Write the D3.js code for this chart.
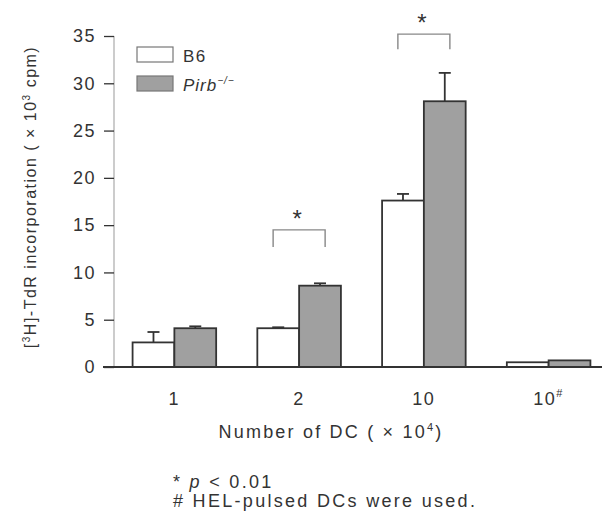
<!DOCTYPE html>
<meta charset="utf-8">
<script src="https://cdnjs.cloudflare.com/ajax/libs/d3/7.8.5/d3.min.js"></script>
<style>
  body { margin:0; background:#fff; }
  text { font-family: "Liberation Sans", Arial, sans-serif; fill:#333; }
</style>
<div id="chart"></div>
<script>
const groups = ["1", "2", "10", "10#"];
const series = ["B6", "Pirb"];
const b6 = [2.6, 4.1, 17.6, 0.5];
const b6Err = [1.1, 0.1, 0.7, 0];
const pirb = [4.1, 8.6, 28.1, 0.7];
const pirbErr = [0.2, 0.25, 3.0, 0];
const yTicks = [0, 5, 10, 15, 20, 25, 30, 35];
// significance brackets: group index, bracket level, leg bottom
const sig = [{g: 1, top: 14.5, leg: 12.7}, {g: 2, top: 35.2, leg: 33.6}];

const width = 602, height = 520;
const svg = d3.select("#chart").append("svg").attr("width", width).attr("height", height);

const y = d3.scaleLinear().domain([0, 35]).range([367, 36]);
const x = d3.scaleBand().domain(groups).range([112, 611]).paddingInner(0.33).paddingOuter(0.165);
const xs = d3.scaleBand().domain(series).range([0, x.bandwidth()]);

const vals = {B6: b6, Pirb: pirb};
const errs = {B6: b6Err, Pirb: pirbErr};
const fill = {B6: "#fff", Pirb: "#a0a0a0"};

// y axis
const ya = svg.append("g").attr("transform", "translate(114,0)")
  .call(d3.axisLeft(y).tickValues(yTicks).tickSize(10).tickPadding(8));
ya.select(".domain").attr("stroke", "#bbb").attr("stroke-width", 1.5).attr("d", "M0," + y(0) + "V" + y(35));
ya.selectAll(".tick line").attr("stroke", "#333").attr("stroke-width", 1.3);
ya.selectAll(".tick text").attr("font-size", 18).attr("fill", "#333").attr("letter-spacing", 1.5)
  .attr("font-family", "Liberation Sans, Arial, sans-serif");

// bars
const data = [];
groups.forEach((g, i) => series.forEach(s => data.push({g, s, v: vals[s][i], e: errs[s][i]})));

svg.append("g").selectAll("line.err").data(data.filter(d => d.e > 0)).join("line")
  .attr("x1", d => x(d.g) + xs(d.s) + xs.bandwidth() / 2)
  .attr("x2", d => x(d.g) + xs(d.s) + xs.bandwidth() / 2)
  .attr("y1", d => y(d.v)).attr("y2", d => y(d.v + d.e))
  .attr("stroke", "#333").attr("stroke-width", 1.8);
svg.append("g").selectAll("line.cap").data(data.filter(d => d.e > 0)).join("line")
  .attr("x1", d => x(d.g) + xs(d.s) + xs.bandwidth() / 2 - 6)
  .attr("x2", d => x(d.g) + xs(d.s) + xs.bandwidth() / 2 + 6)
  .attr("y1", d => y(d.v + d.e)).attr("y2", d => y(d.v + d.e))
  .attr("stroke", "#333").attr("stroke-width", 1.8);

svg.append("g").selectAll("rect").data(data).join("rect")
  .attr("x", d => x(d.g) + xs(d.s))
  .attr("y", d => y(d.v))
  .attr("width", xs.bandwidth())
  .attr("height", d => y(0) - y(d.v))
  .attr("fill", d => fill[d.s])
  .attr("stroke", "#333").attr("stroke-width", 1.8);

// baseline
svg.append("line").attr("x1", 103).attr("x2", 602).attr("y1", y(0)).attr("y2", y(0))
  .attr("stroke", "#333").attr("stroke-width", 2);

// x tick labels
const xl = svg.append("g").selectAll("text").data(groups).join("text")
  .attr("x", d => x(d) + x.bandwidth() / 2).attr("y", 405)
  .attr("text-anchor", "middle").attr("font-size", 18).attr("letter-spacing", 1.5);
xl.text(d => d.replace("#", ""));
xl.filter(d => d.includes("#")).append("tspan").attr("dy", -8).attr("font-size", 11).text("#");

// x label
const xt = svg.append("text").attr("x", 331).attr("y", 438).attr("text-anchor", "middle")
  .attr("font-size", 18).attr("letter-spacing", 2.2);
xt.append("tspan").text("Number of DC ( \u00d7 10");
xt.append("tspan").attr("dy", -7).attr("font-size", 11).text("4");
xt.append("tspan").attr("dy", 7).text(")");

// y label
const yt = svg.append("text").attr("transform", "translate(36,197) rotate(-90)")
  .attr("text-anchor", "middle").attr("font-size", 16).attr("letter-spacing", 1.5);
yt.append("tspan").text("[");
yt.append("tspan").attr("dy", -6).attr("font-size", 10).text("3");
yt.append("tspan").attr("dy", 6).text("H]-TdR incorporation ( \u00d7 10");
yt.append("tspan").attr("dy", -6).attr("font-size", 10).text("3");
yt.append("tspan").attr("dy", 6).text(" cpm)");

// significance
sig.forEach(d => {
  const cx = x(groups[d.g]) + x.bandwidth() / 2;
  const half = 26;
  svg.append("path")
    .attr("d", `M${cx - half},${y(d.leg)}V${y(d.top)}H${cx + half}V${y(d.leg)}`)
    .attr("fill", "none").attr("stroke", "#888").attr("stroke-width", 1.4);
  svg.append("text").attr("x", cx - 2).attr("y", y(d.top) - 3)
    .attr("text-anchor", "middle").attr("font-size", 24).text("*");
});

// legend
const leg = svg.append("g");
series.forEach((s, i) => {
  leg.append("rect").attr("x", 137).attr("y", 47 + i * 29).attr("width", 36).attr("height", 15)
    .attr("fill", fill[s]).attr("stroke", "#777").attr("stroke-width", 1.2);
});
leg.append("text").attr("x", 183).attr("y", 62).attr("font-size", 17).attr("letter-spacing", 1.5).text("B6");
const lp = leg.append("text").attr("x", 183).attr("y", 91).attr("font-size", 17)
  .attr("font-style", "italic").attr("letter-spacing", 1);
lp.append("tspan").text("Pirb");
lp.append("tspan").attr("dy", -7).attr("font-size", 10).text("\u2212/\u2212");

// footnotes
const f1 = svg.append("text").attr("x", 173).attr("y", 488).attr("font-size", 18).attr("letter-spacing", 2.3);
f1.append("tspan").text("* ");
f1.append("tspan").attr("font-style", "italic").text("p");
f1.append("tspan").text(" < 0.01");
svg.append("text").attr("x", 173).attr("y", 507).attr("font-size", 18).attr("letter-spacing", 2.3)
  .text("# HEL-pulsed DCs were used.");
</script>
